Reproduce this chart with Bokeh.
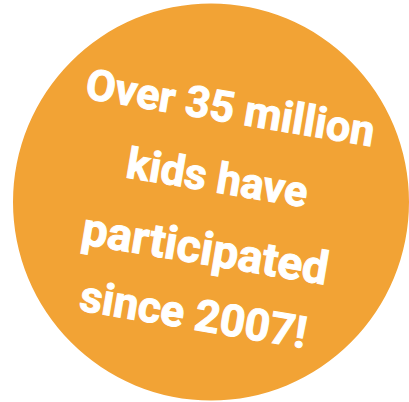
from bokeh.plotting import figure
from bokeh.models import Range1d, ColumnDataSource
from bokeh.core.properties import value
from bokeh.embed import file_html
from bokeh.resources import INLINE
import math

# --- data ---
lines = ["Over 35 million", "kids have", "participated", "since 2007!"]

W, H = 409, 402

# page-pixel positions of each line's centre
line_cx = [230, 217, 205, 193]
line_cy = [107, 177, 248, 314]
line_size = ["43px", "43px", "46px", "44px"]

p = figure(width=W, height=H, output_backend="svg", toolbar_location=None,
           x_range=Range1d(0, W), y_range=Range1d(0, H),
           min_border=0, outline_line_color=None, background_fill_color="white",
           border_fill_color="white")
p.axis.visible = False
p.grid.visible = False

def py(y):
    return H - y

p.ellipse(x=[210.5], y=[py(201.5)], width=[396], height=[397],
          fill_color="#F2A335", line_color=None)

src = ColumnDataSource(dict(x=line_cx, y=[py(v) for v in line_cy],
                            t=lines, s=line_size))
p.text(x="x", y="y", text="t", source=src, text_font=value("Roboto"),
       text_font_style="bold", text_font_size="s", text_color="white",
       text_outline_color="white",
       text_align="center", text_baseline="middle", angle=-math.radians(9.5))

open("out.html", "w").write(file_html(p, INLINE))
